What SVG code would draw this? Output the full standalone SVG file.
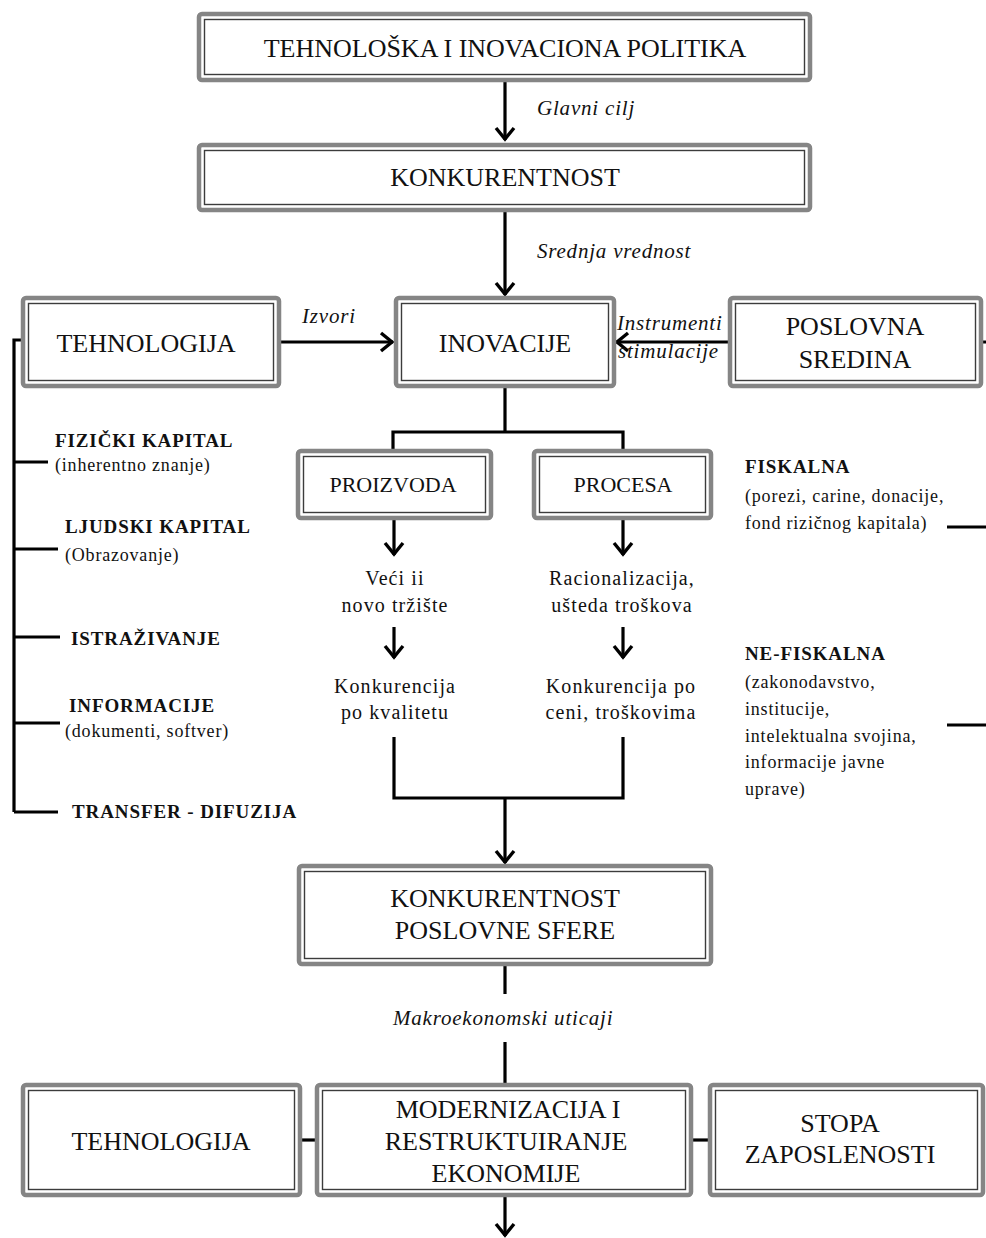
<svg xmlns="http://www.w3.org/2000/svg" width="986" height="1238" viewBox="0 0 986 1238">
<style>
.bo{fill:none;stroke:#858585;stroke-width:4.5}
.bi{fill:#fff;stroke:#3c3c3c;stroke-width:1.4}
.t{font-family:"Liberation Serif","Times New Roman",serif;fill:#111}
.big{font-size:26px;text-anchor:middle}
.mid{font-size:20px;text-anchor:middle;letter-spacing:1.1px}
.box2{font-size:22px;text-anchor:middle}
.it{font-size:21px;font-style:italic;letter-spacing:0.8px}
.hb{font-size:19px;font-weight:bold;letter-spacing:0.9px}
.sm{font-size:18px;letter-spacing:0.8px}
.ln{fill:none;stroke:#000;stroke-width:3.2}
.ar{fill:none;stroke:#000;stroke-width:3.2;marker-end:url(#ah)}
</style>
<defs>
<marker id="ah" viewBox="-14 -11 16 22" markerWidth="16" markerHeight="22" refX="0" refY="0" orient="auto" markerUnits="userSpaceOnUse">
<path d="M-12,-9 L-1,0 L-12,9" fill="none" stroke="#000" stroke-width="3.4"/>
</marker>
</defs>
<rect width="986" height="1238" fill="#fff"/>

<g id="connectors">
<path class="ar" d="M505,82 V140"/>
<path class="ar" d="M505,212 V295"/>
<path class="ar" d="M280,342 H393"/>
<path class="ar" d="M728,342 H616" stroke-width="4"/>
<path class="ln" d="M505,388 V432 M393,432 H623 M393,430.5 V449 M623,430.5 V449"/>
<path class="ar" d="M394,520 V555"/>
<path class="ar" d="M623,520 V555"/>
<path class="ar" d="M394,627 V658"/>
<path class="ar" d="M623,627 V658"/>
<path class="ln" d="M394,737 V798 H623 V737"/>
<path class="ar" d="M505,798 V863"/>
<path class="ln" d="M505,966 V994"/>
<path class="ln" d="M505,1042 V1083"/>
<path class="ar" d="M505,1197 V1236"/>
<path class="ln" d="M302,1140 H315"/>
<path class="ln" d="M693,1140 H708"/>
<path class="ln" d="M22,340 H14 V812 M14,462 H48 M14,549 H58 M14,637 H60 M14,723 H60 M14,812 H58"/>
<path class="ln" d="M983,342 H986 M947,527 H986 M947,725 H986"/>
</g>

<g id="n-politika">
<rect class="bo" x="199" y="14" width="611" height="66" rx="3"/>
<rect class="bi" x="204.5" y="19.5" width="600" height="55"/>
<text class="t big" x="505" y="57">TEHNOLOŠKA I INOVACIONA POLITIKA</text>
</g>
<text class="t it" x="537" y="115">Glavni cilj</text>

<g id="n-konkurentnost">
<rect class="bo" x="199" y="145" width="611" height="65" rx="3"/>
<rect class="bi" x="204.5" y="150.5" width="600" height="54"/>
<text class="t big" x="505" y="186">KONKURENTNOST</text>
</g>
<text class="t it" x="537" y="258">Srednja vrednost</text>

<g id="n-tehnologija">
<rect class="bo" x="23" y="298" width="256" height="88" rx="3"/>
<rect class="bi" x="28.5" y="303.5" width="245" height="77"/>
<text class="t big" x="146" y="352">TEHNOLOGIJA</text>
</g>
<text class="t it" x="302" y="323">Izvori</text>

<g id="n-inovacije">
<rect class="bo" x="396" y="298" width="218" height="88" rx="3"/>
<rect class="bi" x="401.5" y="303.5" width="207" height="77"/>
<text class="t big" x="505" y="352">INOVACIJE</text>
</g>

<g id="n-poslovna">
<rect class="bo" x="730" y="298" width="251" height="88" rx="3"/>
<rect class="bi" x="735.5" y="303.5" width="240" height="77"/>
<text class="t big" x="855" y="335">POSLOVNA</text>
<text class="t big" x="855" y="368">SREDINA</text>
</g>
<text class="t it" x="617" y="330">Instrumenti</text>
<text class="t it" x="618" y="358">stimulacije</text>

<g id="n-left-list">
<text class="t hb" x="55" y="447">FIZIČKI KAPITAL</text>
<text class="t sm" x="55" y="471">(inherentno znanje)</text>
<text class="t hb" x="65" y="533">LJUDSKI KAPITAL</text>
<text class="t sm" x="65" y="561">(Obrazovanje)</text>
<text class="t hb" x="71" y="645">ISTRAŽIVANJE</text>
<text class="t hb" x="69" y="712">INFORMACIJE</text>
<text class="t sm" x="65" y="737">(dokumenti, softver)</text>
<text class="t hb" x="72" y="818">TRANSFER - DIFUZIJA</text>
</g>

<g id="n-right-list">
<text class="t hb" x="745" y="473">FISKALNA</text>
<text class="t sm" x="745" y="502">(porezi, carine, donacije,</text>
<text class="t sm" x="745" y="529">fond rizičnog kapitala)</text>
<text class="t hb" x="745" y="660">NE-FISKALNA</text>
<text class="t sm" x="745" y="688">(zakonodavstvo,</text>
<text class="t sm" x="745" y="715">institucije,</text>
<text class="t sm" x="745" y="742">intelektualna svojina,</text>
<text class="t sm" x="745" y="768">informacije javne</text>
<text class="t sm" x="745" y="795">uprave)</text>
</g>

<g id="n-proizvoda">
<rect class="bo" x="298" y="451" width="193" height="67" rx="3"/>
<rect class="bi" x="303.5" y="456.5" width="182" height="56"/>
<text class="t box2" x="393" y="492">PROIZVODA</text>
</g>

<g id="n-procesa">
<rect class="bo" x="534" y="451" width="177" height="67" rx="3"/>
<rect class="bi" x="539.5" y="456.5" width="166" height="56"/>
<text class="t box2" x="623" y="492">PROCESA</text>
</g>

<g id="n-veci">
<text class="t mid" x="395" y="585">Veći ii</text>
<text class="t mid" x="395" y="612">novo tržište</text>
</g>
<g id="n-racionalizacija">
<text class="t mid" x="622" y="585">Racionalizacija,</text>
<text class="t mid" x="622" y="612">ušteda troškova</text>
</g>
<g id="n-kvalitet">
<text class="t mid" x="395" y="693">Konkurencija</text>
<text class="t mid" x="395" y="719">po kvalitetu</text>
</g>
<g id="n-cena">
<text class="t mid" x="621" y="693">Konkurencija po</text>
<text class="t mid" x="621" y="719">ceni, troškovima</text>
</g>

<g id="n-konk-sfere">
<rect class="bo" x="299" y="866" width="412" height="98" rx="3"/>
<rect class="bi" x="304.5" y="871.5" width="401" height="87"/>
<text class="t big" x="505" y="907">KONKURENTNOST</text>
<text class="t big" x="505" y="939">POSLOVNE SFERE</text>
</g>
<text class="t it" x="393" y="1025">Makroekonomski uticaji</text>

<g id="n-tehnologija2">
<rect class="bo" x="23" y="1085" width="277" height="110" rx="3"/>
<rect class="bi" x="28.5" y="1090.5" width="266" height="99"/>
<text class="t big" x="161" y="1150">TEHNOLOGIJA</text>
</g>

<g id="n-modernizacija">
<rect class="bo" x="317" y="1085" width="374" height="110" rx="3"/>
<rect class="bi" x="322.5" y="1090.5" width="363" height="99"/>
<text class="t big" x="508" y="1118">MODERNIZACIJA I</text>
<text class="t big" x="506" y="1150">RESTRUKTUIRANJE</text>
<text class="t big" x="506" y="1182">EKONOMIJE</text>
</g>

<g id="n-stopa">
<rect class="bo" x="710" y="1085" width="273" height="110" rx="3"/>
<rect class="bi" x="715.5" y="1090.5" width="262" height="99"/>
<text class="t big" x="840" y="1132">STOPA</text>
<text class="t big" x="840" y="1163">ZAPOSLENOSTI</text>
</g>
</svg>
